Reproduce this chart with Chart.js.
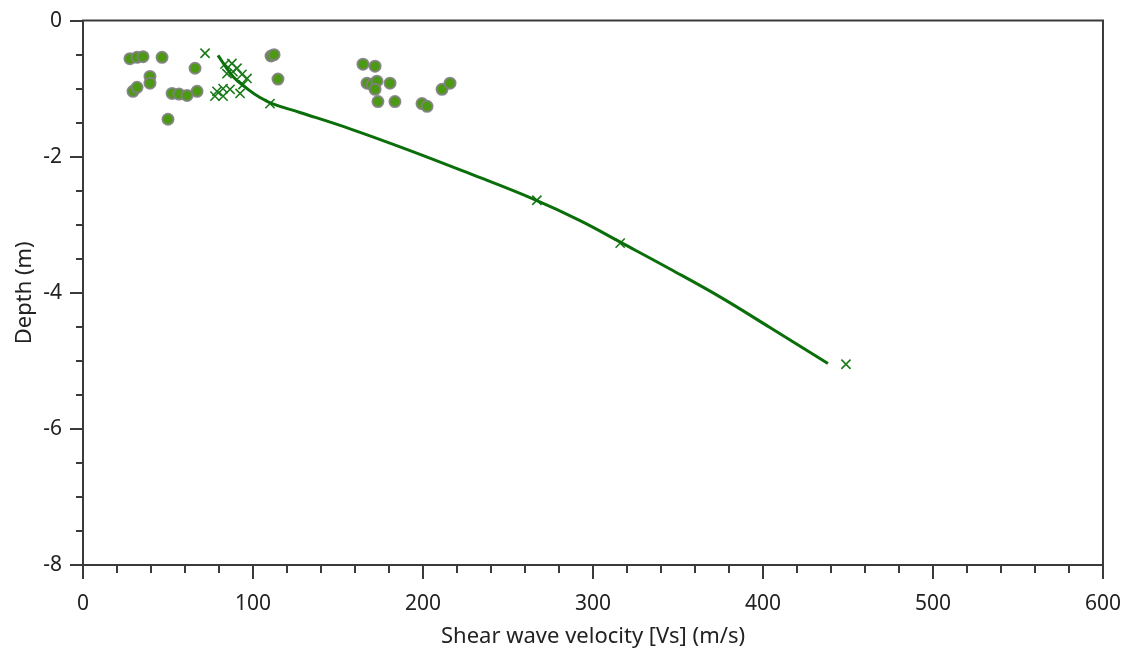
<!DOCTYPE html>
<html>
<head>
<meta charset="utf-8">
<script src="https://cdn.jsdelivr.net/npm/chart.js@4/dist/chart.umd.min.js"></script>
<style>
html,body{margin:0;padding:0;background:#fff;}
#wrap{width:1133px;height:654px;position:relative;}
</style>
</head>
<body>
<div id="wrap"><canvas id="c" width="1133" height="654"></canvas></div>
<script>
// Fitted profile line
const lineVs    = [79.4, 88.2, 97.1, 104.1, 111.2, 127.6, 157.1, 192.4, 227.6, 264.7, 292.4, 317.1, 345.3, 374.7, 404.1, 438.2];
const lineDepth = [-0.51, -0.82, -1.01, -1.13, -1.22, -1.35, -1.59, -1.91, -2.25, -2.62, -2.94, -3.27, -3.65, -4.06, -4.51, -5.04];

// Cross markers
const crossVs    = [71.8, 83.5, 87.6, 90.6, 84.7, 88.2, 93.5, 96.5, 78.8, 82.4, 86.5, 77.6, 82.4, 92.4, 94.1, 110.0, 267.0, 316.0, 448.8];
const crossDepth = [-0.48, -0.64, -0.63, -0.70, -0.78, -0.75, -0.79, -0.85, -1.04, -1.00, -1.01, -1.11, -1.11, -1.07, -0.94, -1.22, -2.64, -3.27, -5.05];

// Circle markers
const dotVs    = [27.6, 31.8, 35.3, 46.5, 65.9, 39.4, 39.4, 29.4, 31.8, 52.4, 56.5, 61.2, 67.1, 50.0, 110.6, 112.4, 114.7,
                  164.7, 171.8, 167.1, 170.0, 172.9, 171.8, 180.6, 173.5, 183.5, 199.4, 202.4, 211.2, 215.9];
const dotDepth = [-0.56, -0.54, -0.53, -0.54, -0.70, -0.82, -0.92, -1.04, -0.98, -1.07, -1.08, -1.10, -1.04, -1.45, -0.52, -0.50, -0.86,
                  -0.64, -0.67, -0.92, -0.94, -0.89, -1.01, -0.92, -1.19, -1.19, -1.22, -1.26, -1.01, -0.92];

const xTitle = "Shear wave velocity [Vs] (m/s)";
const yTitle = "Depth (m)";

const toPts = (xs, ys) => xs.map((x, i) => ({x: x, y: ys[i]}));

const AXIS = '#3a3a3a';
const TXT = '#222';
const FONT = "'Noto Sans', 'Open Sans', sans-serif";

const frameAndMinor = {
  id: 'frameAndMinor',
  afterDraw(chart) {
    const {ctx, chartArea: a, scales: {x, y}} = chart;
    ctx.save();
    ctx.strokeStyle = AXIS;
    ctx.lineWidth = 2;
    ctx.beginPath();
    ctx.rect(a.left, a.top, a.right - a.left, a.bottom - a.top);
    ctx.stroke();
    ctx.beginPath();
    for (let v = 0; v <= 600; v += 20) {
      if (v % 100 === 0) continue;
      const px = Math.round(x.getPixelForValue(v));
      ctx.moveTo(px, a.bottom);
      ctx.lineTo(px, a.bottom + 8);
    }
    for (let d = 0; d >= -8; d -= 0.5) {
      if (Math.abs(d % 2) < 1e-9) continue;
      const py = Math.round(y.getPixelForValue(d));
      ctx.moveTo(a.left, py);
      ctx.lineTo(a.left - 7, py);
    }
    ctx.stroke();
    ctx.restore();
  }
};

new Chart(document.getElementById('c'), {
  type: 'scatter',
  data: {
    datasets: [
      {
        label: 'profile',
        data: toPts(lineVs, lineDepth),
        showLine: true,
        borderColor: '#0a6e0a',
        borderWidth: 3,
        pointRadius: 0,
        tension: 0.4,
        order: 1
      },
      {
        label: 'crosses',
        data: toPts(crossVs, crossDepth),
        showLine: false,
        pointStyle: 'crossRot',
        pointRadius: 6.5,
        borderColor: '#1a7a1a',
        borderWidth: 1.6,
        order: 2
      },
      {
        label: 'dots',
        data: toPts(dotVs, dotDepth),
        showLine: false,
        pointStyle: 'circle',
        pointRadius: 5.5,
        backgroundColor: '#4c9a12',
        borderColor: 'rgba(128,128,128,0.9)',
        borderWidth: 2,
        order: 3
      }
    ]
  },
  options: {
    responsive: false,
    animation: false,
    devicePixelRatio: 1,
    layout: {padding: {left: 0, top: 18, right: 30, bottom: 0}},
    plugins: {legend: {display: false}, tooltip: {enabled: false}},
    scales: {
      x: {
        type: 'linear',
        min: 0, max: 600,
        ticks: {stepSize: 100, color: TXT, font: {family: FONT, size: 21}, padding: 12},
        grid: {drawOnChartArea: false, drawTicks: true, tickLength: 14, color: AXIS, lineWidth: 2},
        border: {color: AXIS, width: 2},
        title: {display: true, text: xTitle, color: TXT, font: {family: FONT, size: 22}, padding: {top: 0, bottom: 4}},
        afterFit(s) { s.height = 89; }
      },
      y: {
        type: 'linear',
        min: -8, max: 0,
        ticks: {stepSize: 2, color: TXT, font: {family: FONT, size: 21}, padding: 8},
        grid: {drawOnChartArea: false, drawTicks: true, tickLength: 13, color: AXIS, lineWidth: 2},
        border: {color: AXIS, width: 2},
        title: {display: true, text: yTitle, color: TXT, font: {family: FONT, size: 22}, padding: {top: 12, bottom: 0}},
        afterFit(s) { s.width = 83; }
      }
    }
  },
  plugins: [frameAndMinor]
});
</script>
</body>
</html>
